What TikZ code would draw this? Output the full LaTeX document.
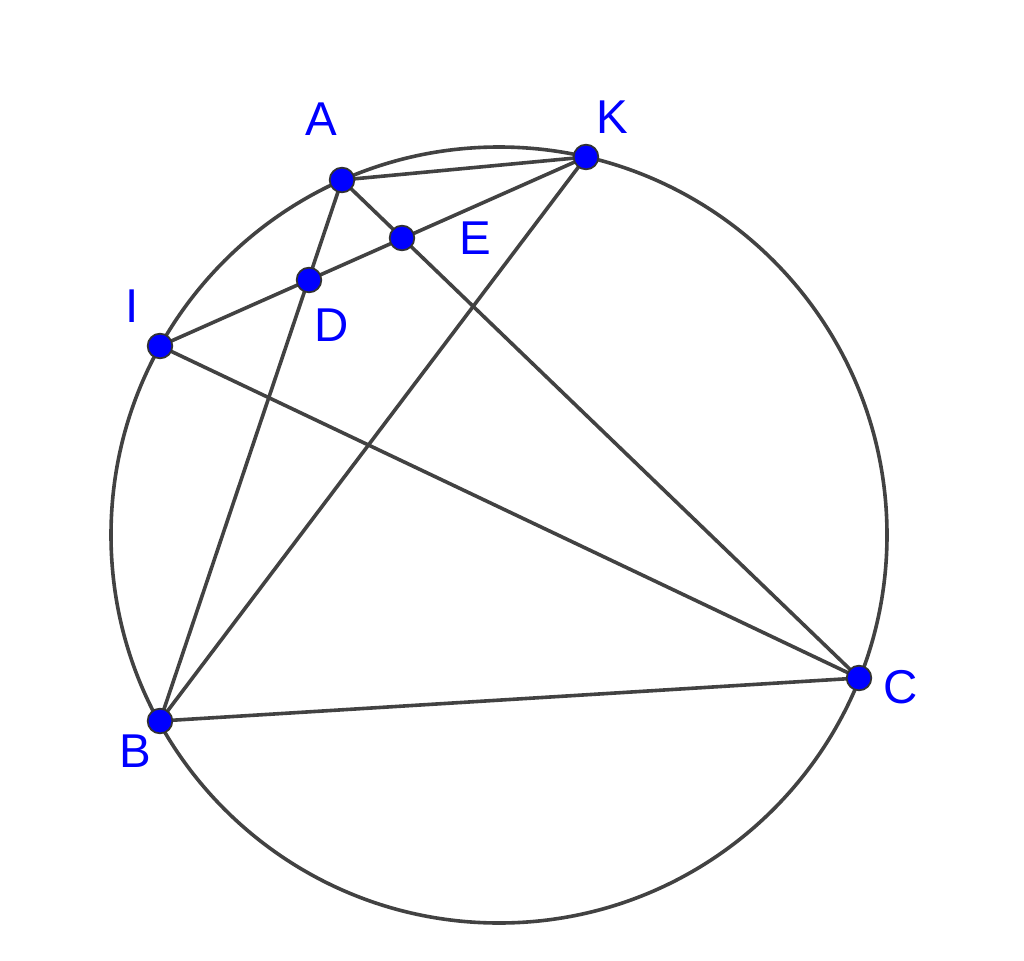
\documentclass[tikz,border=0pt]{standalone}
\usepackage{fontspec}
\setmainfont{Liberation Sans}
\definecolor{linegray}{HTML}{424242}
\definecolor{ptblue}{HTML}{0000FF}
\begin{document}
\begin{tikzpicture}[x=0.75pt,y=-0.75pt,
  seg/.style={draw=linegray,line width=2.7pt},
  pt/.style={circle,fill=ptblue,draw=black!80,line width=1.3pt,inner sep=0pt,minimum size=18.5pt},
  lbl/.style={text=ptblue,font=\fontsize{35.6}{40}\selectfont,inner sep=0pt}]
\useasboundingbox (0,0) rectangle (1024,960);
\coordinate (O) at (499,535);
\draw[seg] (O) circle[radius=388*0.75pt];
\coordinate (a) at (342,180);
\coordinate (k) at (586,157);
\coordinate (e) at (402,238);
\coordinate (d) at (309,280);
\coordinate (i) at (160,346);
\coordinate (b) at (160,721);
\coordinate (c) at (859,678);
\draw[seg] (a) -- (k);
\draw[seg] (a) -- (c);
\draw[seg] (a) -- (b);
\draw[seg] (i) -- (k);
\draw[seg] (i) -- (c);
\draw[seg] (b) -- (k);
\draw[seg] (b) -- (c);
\node[pt] (A) at (a) {};
\node[pt] (K) at (k) {};
\node[pt] (E) at (e) {};
\node[pt] (D) at (d) {};
\node[pt] (I) at (i) {};
\node[pt] (B) at (b) {};
\node[pt] (C) at (c) {};
\node[lbl] (lA) at (321,119) {A};
\node[lbl] (lK) at (612,117) {K};
\node[lbl] (lE) at (475,238) {E};
\node[lbl] (lI) at (132,306) {I};
\node[lbl] (lD) at (332,325) {D};
\node[lbl] (lB) at (135,751) {B};
\node[lbl] (lC) at (901,687) {C};
\end{tikzpicture}
\end{document}
